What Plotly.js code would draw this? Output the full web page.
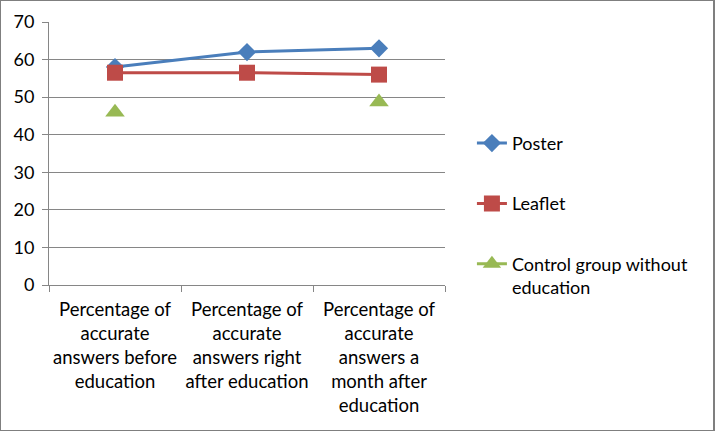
<!DOCTYPE html>
<html>
<head>
<meta charset="utf-8">
<script src="https://cdn.plot.ly/plotly-3.0.1.min.js"></script>
<style>
html,body{margin:0;padding:0;background:#fff;}
#chart{width:715px;height:431px;box-sizing:border-box;border:1px solid #7f7f7f;border-right-width:2px;}
</style>
</head>
<body>
<div id="chart"></div>
<script>
const categories = [
  "Percentage of<br>accurate<br>answers before<br>education",
  "Percentage of<br>accurate<br>answers right<br>after education",
  "Percentage of<br>accurate<br>answers a<br>month after<br>education"
];
const seriesNames = ["Poster", "Leaflet", "Control group without<br>education"];
const poster = [58, 62, 63];
const leaflet = [56.5, 56.5, 56];
const control = [46, null, 48.7];
const yTicks = [0, 10, 20, 30, 40, 50, 60, 70];

const font = "Lato, 'Liberation Sans', sans-serif";
const colors = ["#4a7ebb", "#be4b48", "#98b954"];
const traces = [
  {x: categories, y: poster, name: seriesNames[0], legendgroup: "a", mode: "lines+markers",
   line: {color: colors[0], width: 3}, marker: {symbol: "diamond", size: 14, color: colors[0]}},
  {x: categories, y: leaflet, name: seriesNames[1], legendgroup: "b", mode: "lines+markers",
   line: {color: colors[1], width: 3}, marker: {symbol: "square", size: 16, color: colors[1]}},
  {x: categories, y: control, name: seriesNames[2], legendgroup: "c", mode: "lines+markers", connectgaps: false,
   line: {color: colors[2], width: 3}, marker: {symbol: "triangle-up", size: 17, color: colors[2]}}
];
const layout = {
  width: 712, height: 429,
  margin: {l: 48, r: 268, t: 21, b: 145},
  paper_bgcolor: "#fff", plot_bgcolor: "#fff",
  font: {family: font, color: "#000", size: 18},
  showlegend: true,
  legend: {x: 1.068, y: 0.609, xanchor: "left", yanchor: "top", tracegroupgap: 34, traceorder: "grouped", valign: "top",
           font: {family: font, size: 18, color: "#000"}, bgcolor: "rgba(0,0,0,0)"},
  xaxis: {type: "category", range: [-0.5, 2.5], tickson: "boundaries", ticks: "outside", ticklen: 6, tickcolor: "#868686",
          showline: true, linecolor: "#868686", linewidth: 1, showgrid: false, zeroline: false,
          tickfont: {family: font, size: 18.5, color: "#000"}, tickangle: 0, ticklabelstandoff: 8},
  yaxis: {range: [0, 70], tickvals: yTicks, ticks: "outside", ticklen: 6, tickcolor: "#868686",
          showline: true, linecolor: "#868686", showgrid: true, gridcolor: "#868686", gridwidth: 1,
          zeroline: false, tickfont: {family: font, size: 18, color: "#000"}, ticklabelstandoff: 4}
};
Plotly.newPlot("chart", traces, layout, {displayModeBar: false, staticPlot: true});
</script>
</body>
</html>
